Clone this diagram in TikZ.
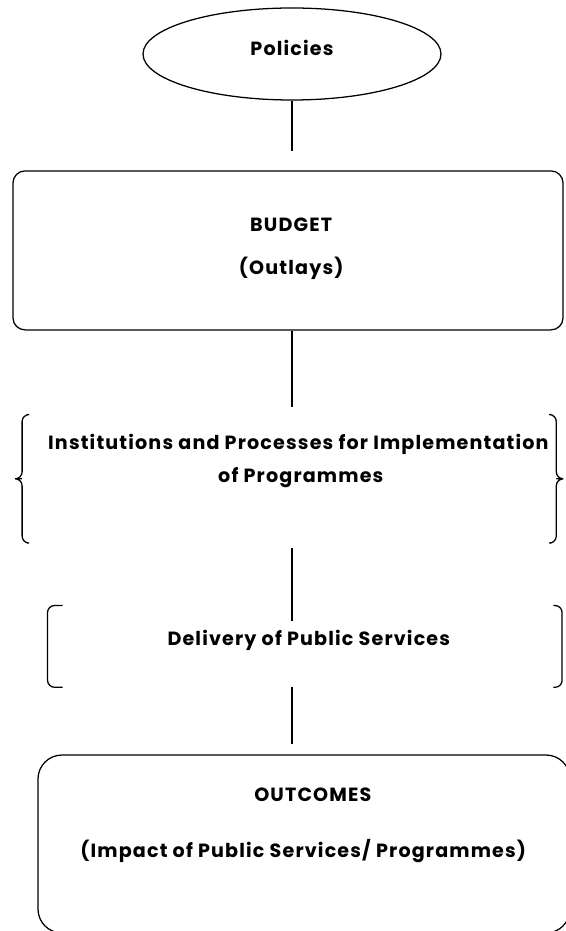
\documentclass[tikz,border=0pt]{standalone}
\usepackage{fontspec}
\setmainfont{Poppins}[LetterSpace=6.0]
\usetikzlibrary{shapes.geometric,positioning,calc}
\tikzset{
  frame/.style={draw=black,line width=0.9pt,inner sep=0pt},
  label/.style={font=\bfseries\fontsize{13.6}{15}\selectfont,inner sep=0pt,anchor=center},
  link/.style={draw=black,line width=0.8pt},
  curl/.style={draw=black,line width=0.9pt,rounded corners=5pt}
}

\begin{document}
\begin{tikzpicture}
  \useasboundingbox (0,0) rectangle (14.15,-23.275);

  % frames
  \node[frame,ellipse,minimum width=7.45cm,minimum height=2.3cm] (pol) at (7.3,-1.35) {};
  \node[frame,rounded corners=0.3cm,minimum width=13.75cm,minimum height=3.975cm] (bud) at (7.2,-6.26) {};
  \node[minimum width=13.7cm,minimum height=3.2cm,inner sep=0pt] (inst) at (7.23,-11.97) {};
  \node[minimum width=12.85cm,minimum height=2.03cm,inner sep=0pt] (del) at (7.62,-16.16) {};
  \node[frame,rounded corners=0.6cm,minimum width=13.3cm,minimum height=4.45cm] (out) at (7.6,-21.1) {};

  % texts
  \node[label] (polt) at (7.3,-1.2) {Policies};
  \node[label] (budt) at (7.28,-5.62) {BUDGET};
  \node[label] (budo) at (7.28,-6.7) {(Outlays)};
  \node[label] (insa) at (7.46,-11.1) {Institutions and Processes for Implementation};
  \node[label] (insb) at (7.52,-11.95) {of Programmes};
  \node[label] (delt) at (7.72,-16.0) {Delivery of Public Services};
  \node[label] (outt) at (7.82,-19.87) {OUTCOMES};
  \node[label] (outi) at (7.58,-21.27) {(Impact of Public Services/ Programmes)};

  % curly braces round the institutions
  \draw[curl] ([xshift=0.3cm]inst.north west) -- ([xshift=0.18cm]inst.north west)
    -- ([xshift=0.18cm]inst.west) -- (inst.west) -- ([xshift=0.18cm]inst.west)
    -- ([xshift=0.18cm]inst.south west) -- ([xshift=0.3cm]inst.south west);
  \draw[curl] ([xshift=-0.3cm]inst.north east) -- ([xshift=-0.18cm]inst.north east)
    -- ([xshift=-0.18cm]inst.east) -- (inst.east) -- ([xshift=-0.18cm]inst.east)
    -- ([xshift=-0.18cm]inst.south east) -- ([xshift=-0.3cm]inst.south east);

  % brackets round the delivery
  \draw[curl] ([xshift=0.38cm]del.north west) -- (del.north west)
    -- (del.south west) -- ([xshift=0.38cm]del.south west);
  \draw[curl] ([xshift=-0.22cm]del.north east) -- (del.north east)
    -- (del.south east) -- ([xshift=-0.22cm]del.south east);

  % connectors
  \draw[link,shorten >=0.47cm] (pol.south) -- (pol.south |- bud.north);
  \draw[link,shorten >=0.18cm] (pol.south |- bud.south) -- (pol.south |- inst.north);
  \draw[link,shorten <=0.12cm,shorten >=-0.38cm] (pol.south |- inst.south) -- (pol.south |- del.north);
  \draw[link,shorten >=0.27cm] (pol.south |- del.south) -- (pol.south |- out.north);
\end{tikzpicture}
\end{document}
